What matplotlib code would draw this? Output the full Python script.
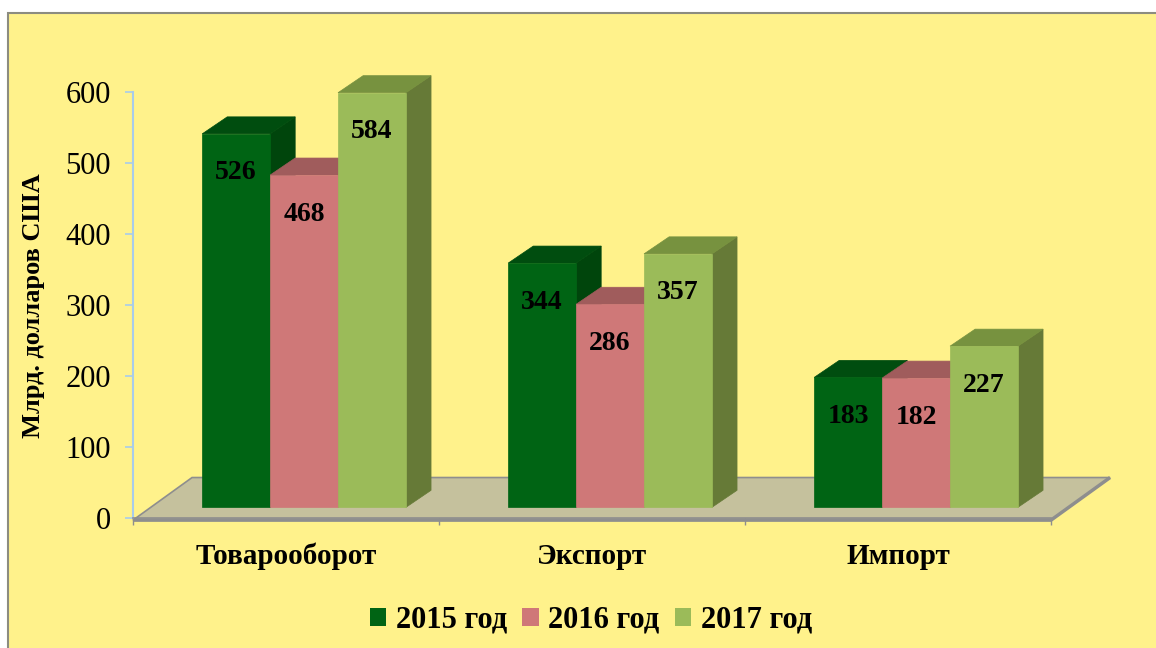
import matplotlib.pyplot as plt
from matplotlib.patches import Polygon, Patch, Rectangle

plt.rcParams['font.family'] = ['Liberation Serif', 'DejaVu Serif']

categories = ['Товарооборот', 'Экспорт', 'Импорт']
years = ['2015 год', '2016 год', '2017 год']
values = [
    [526, 344, 183],   # 2015
    [468, 286, 182],   # 2016
    [584, 357, 227],   # 2017
]

front = ['#006414', '#CF7878', '#9BBB59']
top = ['#004D0F', '#A05C5C', '#77923F']
side = ['#00450C', '#945252', '#667A37']
bg = '#FFF28B'

fig = plt.figure(figsize=(11.56, 6.48), dpi=100)
fig.patch.set_facecolor('white')
# yellow panel with grey border on top/left
fig.patches.append(Rectangle((8 / 1156, -0.05), 1.1, 1.05 - 13 / 648, transform=fig.transFigure,
                             facecolor=bg, edgecolor='#8C8C80', linewidth=1.5, zorder=-10))

ax = fig.add_axes([133 / 1156, 130 / 648, 918 / 1156, 426 / 648])
ax.set_facecolor('none')
ax.set_xlim(-0.5, 2.5)
ax.set_ylim(0, 600)

# 3d look parameters (data units)
dx, dy = 0.082, 24          # depth of bars
fdx, fdy = 0.193, 60        # depth of floor
ox, oy = 0.059, 15          # bar front offset from axis plane
w = 0.222

# floor
floor = Polygon([(-0.5, -3), (2.5, -3), (2.5 + fdx, fdy - 3), (-0.5 + fdx, fdy - 3)],
                closed=True, facecolor='#C5C19D', edgecolor='#8E8E8E', linewidth=1.2,
                clip_on=False, zorder=1)
ax.add_patch(floor)
ax.plot([-0.5, 2.5, 2.5 + fdx], [-3, -3, fdy - 3], color='#8E8E8E', lw=2.5,
        clip_on=False, zorder=1, solid_capstyle='butt')

z = 2
for c in range(len(categories)):
    for s in range(len(years)):
        v = values[s][c]
        x0 = c - 1.5 * w + s * w + ox
        x1 = x0 + w
        y0, y1 = oy, oy + v
        ax.add_patch(Polygon([(x1, y0), (x1 + dx, y0 + dy), (x1 + dx, y1 + dy), (x1, y1)],
                             facecolor=side[s], edgecolor=side[s], lw=0.5, clip_on=False, zorder=z))
        ax.add_patch(Polygon([(x0, y1), (x0 + dx, y1 + dy), (x1 + dx, y1 + dy), (x1, y1)],
                             facecolor=top[s], edgecolor=top[s], lw=0.5, clip_on=False, zorder=z))
        ax.bar(x0 + w / 2, v, w, bottom=y0, color=front[s], edgecolor=front[s], lw=0.5,
               zorder=z + 0.5, clip_on=False)
        ax.text(x0 + w / 2, y1 - 55, str(v), ha='center', va='center', fontsize=20,
                fontweight='bold', color='black', zorder=z + 1)
        z += 2

for sp in ['top', 'right']:
    ax.spines[sp].set_visible(False)
ax.spines['left'].set_color('#A8CCEB')
ax.spines['left'].set_linewidth(1.5)
ax.spines['bottom'].set_color('#8E8E8E')
ax.spines['bottom'].set_linewidth(1.2)

ax.set_yticks(range(0, 601, 100))
ax.tick_params(axis='y', colors='#A8CCEB', length=6, width=1.2, labelsize=22,
               labelcolor='black', pad=10)
ax.set_xticks([-0.5, 0.5, 1.5, 2.5])
ax.set_xticklabels([])
ax.set_xticks([0, 1, 2], minor=True)
ax.set_xticklabels(categories, minor=True, fontsize=21, fontweight='bold')
ax.tick_params(axis='x', which='major', colors='#8E8E8E', length=5, width=1)
ax.tick_params(axis='x', which='minor', length=0, pad=18, labelcolor='black')

fig.text(0.029, 0.529, 'Млрд. долларов США', rotation=90, ha='center', va='center',
         fontsize=19, fontweight='bold')

handles = [Patch(facecolor=front[i], label=years[i]) for i in range(3)]
fig.legend(handles=handles, loc='center', bbox_to_anchor=(0.511, 0.043), ncol=3,
           frameon=False, prop={'size': 22, 'weight': 'bold'}, handlelength=0.55,
           handleheight=0.55, handletextpad=0.3, columnspacing=0.5)

fig.savefig('out.png', dpi=100, facecolor='white')
